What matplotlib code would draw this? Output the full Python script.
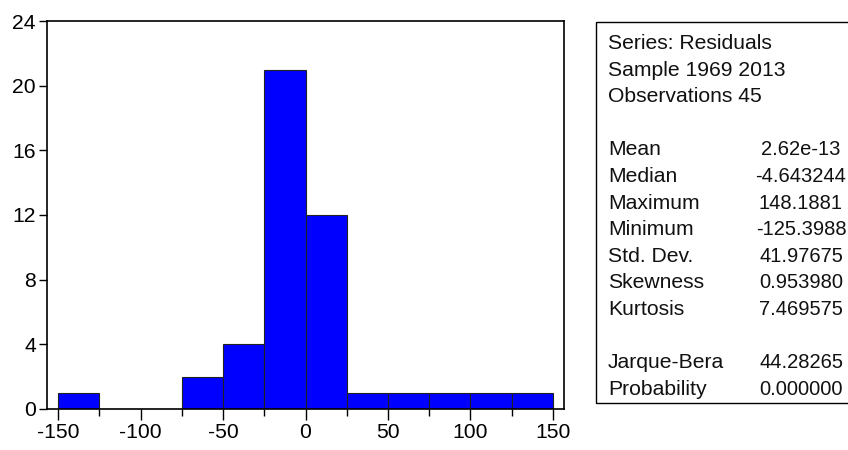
import matplotlib
matplotlib.use("Agg")
from matplotlib import pyplot as plt
from matplotlib.patches import Rectangle

# histogram of residuals, bin width 25
bin_edges = [-150, -125, -100, -75, -50, -25, 0, 25, 50, 75, 100, 125, 150]
counts = [1, 0, 0, 2, 4, 21, 12, 1, 1, 1, 1, 1]

x_ticks = [-150, -100, -50, 0, 50, 100, 150]
y_ticks = [0, 4, 8, 12, 16, 20, 24]

header_lines = ["Series: Residuals", "Sample 1969 2013", "Observations 45"]
stat_names = ["Mean", "Median", "Maximum", "Minimum", "Std. Dev.", "Skewness", "Kurtosis"]
stat_values = ["2.62e-13", "-4.643244", "148.1881", "-125.3988", "41.97675", "0.953980", "7.469575"]
test_names = ["Jarque-Bera", "Probability"]
test_values = ["44.28265", "0.000000"]

W, H = 848, 450
plt.rcParams['font.family'] = ['Liberation Sans', 'DejaVu Sans']
plt.rcParams['font.size'] = 15.2
plt.rcParams['axes.unicode_minus'] = False  # EViews prints plain hyphens

fig = plt.figure(figsize=(W / 100, H / 100), dpi=100)
fig.patch.set_facecolor("white")

# plot area in pixels: left 47, right 564, top 21, bottom 409
ax = fig.add_axes([47 / W, 1 - 409 / H, (564 - 47) / W, (409 - 21) / H])

widths = [bin_edges[i + 1] - bin_edges[i] for i in range(len(counts))]
ax.bar(bin_edges[:-1], counts, width=widths, align="edge",
       color="#0000FF", edgecolor="#222222", linewidth=0.8)

ax.set_xlim(-156.7, 156.7)
ax.set_ylim(0, 24)
ax.set_xticks(x_ticks)
ax.set_xticks([e for e in bin_edges if e not in x_ticks], minor=True)
ax.set_yticks(y_ticks)
ax.tick_params(axis="x", which="major", direction="out", length=8, width=1.0, pad=2)
ax.tick_params(axis="x", which="minor", direction="out", length=5, width=1.0)
ax.tick_params(axis="y", direction="out", length=6, width=1.0, pad=2)
for s in ax.spines.values():
    s.set_linewidth(1.2)
    s.set_color("black")

# statistics box on the right
def fy(py):
    return 1 - py / H

box = Rectangle((596 / W, fy(403)), 1.0, (403 - 22) / H, transform=fig.transFigure,
                facecolor="white", edgecolor="black", linewidth=1.0, clip_on=False)
fig.patches.append(box)

label_x = 608 / W
value_x = 801 / W
step = 26.6
rows = [(t, None) for t in header_lines] + [None] + \
       list(zip(stat_names, stat_values)) + [None] + list(zip(test_names, test_values))
for k, row in enumerate(rows):
    if row is None:
        continue
    y = fy(49 + step * k)
    fig.text(label_x, y, row[0], ha="left", va="baseline", color="#111111")
    if row[1] is not None:
        fig.text(value_x, y, row[1], ha="center", va="baseline",
                 color="#111111", fontsize=14.5)

fig.savefig("out.png", dpi=100)
